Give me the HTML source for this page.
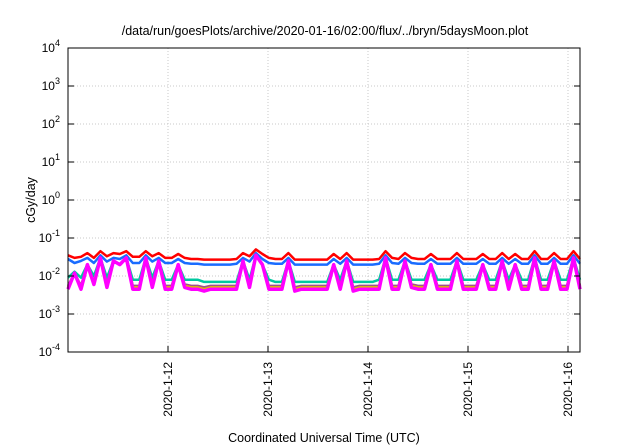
<!DOCTYPE html>
<html><head><meta charset="utf-8"><style>
body{margin:0;background:#fff;}
svg{display:block;font-family:"Liberation Sans",sans-serif;}
</style></head><body>
<svg id="c" width="640" height="448">
<text x="325" y="35" font-size="12.5" text-anchor="middle">/data/run/goesPlots/archive/2020-01-16/02:00/flux/../bryn/5daysMoon.plot</text>
<text x="324" y="442" font-size="12.5" text-anchor="middle">Coordinated Universal Time (UTC)</text>
<text transform="translate(35,200) rotate(-90)" font-size="12.5" text-anchor="middle">cGy/day</text>
<g id="grid"></g><g id="series"></g><g id="axes"></g>
</svg>
<script>
const dayTicks=["2020-1-12","2020-1-13","2020-1-14","2020-1-15","2020-1-16"];
const dayTickValues=[1,2,3,4,5];
const yTickExp=[-4,-3,-2,-1,0,1,2,3,4];
const xSpanDays=5.12;
const magenta=[0.0045,0.012,0.0045,0.02,0.006,0.03,0.005,0.025,0.02,0.03,0.0045,0.0045,0.03,0.005,0.025,0.0045,0.0045,0.02,0.005,0.0045,
0.0045,0.004,0.0045,0.0045,0.0045,0.0045,0.0045,0.025,0.005,0.035,0.02,0.0045,0.0045,0.0045,0.025,0.004,0.0045,0.0045,0.0045,0.0045,
0.0045,0.02,0.0045,0.025,0.004,0.0045,0.0045,0.0045,0.0045,0.03,0.0045,0.0045,0.025,0.005,0.0045,0.0045,0.02,0.0045,0.0045,0.0045,
0.025,0.0045,0.0045,0.0045,0.02,0.0045,0.0045,0.025,0.0045,0.02,0.0045,0.0045,0.03,0.0045,0.0045,0.025,0.0045,0.0045,0.03,0.0045];
const yellow=[0.005,0.012,0.005,0.02,0.0065,0.03,0.0055,0.025,0.02,0.03,0.005,0.005,0.03,0.0055,0.025,0.005,0.005,0.02,0.0055,0.005,
0.005,0.0045,0.005,0.005,0.005,0.005,0.005,0.025,0.0055,0.035,0.02,0.005,0.005,0.005,0.025,0.0045,0.005,0.005,0.005,0.005,
0.005,0.02,0.005,0.025,0.0045,0.005,0.005,0.005,0.005,0.03,0.005,0.005,0.025,0.0055,0.005,0.005,0.02,0.005,0.005,0.005,
0.025,0.005,0.005,0.005,0.02,0.005,0.005,0.025,0.005,0.02,0.005,0.005,0.03,0.005,0.005,0.025,0.005,0.005,0.03,0.005];
const purple=[0.0055,0.012,0.0055,0.02,0.007,0.03,0.006,0.025,0.02,0.03,0.0055,0.0055,0.03,0.006,0.025,0.0055,0.0055,0.02,0.006,0.0055,
0.0055,0.005,0.0055,0.0055,0.0055,0.0055,0.0055,0.025,0.006,0.035,0.02,0.0055,0.0055,0.0055,0.025,0.005,0.0055,0.0055,0.0055,0.0055,
0.0055,0.02,0.0055,0.025,0.005,0.0055,0.0055,0.0055,0.0055,0.03,0.0055,0.0055,0.025,0.006,0.0055,0.0055,0.02,0.0055,0.0055,0.0055,
0.025,0.0055,0.0055,0.0055,0.02,0.0055,0.0055,0.025,0.0055,0.02,0.0055,0.0055,0.03,0.0055,0.0055,0.025,0.0055,0.0055,0.03,0.0055];
const teal=[0.009,0.013,0.009,0.02,0.01,0.03,0.009,0.025,0.02,0.03,0.008,0.008,0.03,0.009,0.025,0.008,0.008,0.02,0.008,0.008,
0.008,0.007,0.007,0.007,0.007,0.007,0.007,0.025,0.008,0.035,0.02,0.008,0.007,0.007,0.025,0.007,0.007,0.007,0.007,0.007,
0.007,0.02,0.008,0.025,0.007,0.007,0.007,0.007,0.008,0.03,0.008,0.008,0.025,0.008,0.008,0.008,0.02,0.008,0.008,0.008,
0.025,0.008,0.008,0.008,0.02,0.008,0.008,0.025,0.008,0.02,0.008,0.008,0.03,0.008,0.008,0.025,0.008,0.008,0.03,0.008];
const blue=[0.028,0.022,0.025,0.03,0.022,0.035,0.024,0.03,0.028,0.035,0.022,0.022,0.035,0.024,0.03,0.022,0.022,0.028,0.022,0.021,
0.021,0.02,0.02,0.02,0.02,0.02,0.021,0.03,0.024,0.04,0.028,0.022,0.021,0.021,0.03,0.02,0.02,0.02,0.02,0.02,
0.02,0.028,0.021,0.03,0.02,0.02,0.02,0.02,0.021,0.035,0.022,0.021,0.03,0.022,0.021,0.021,0.028,0.021,0.021,0.021,
0.03,0.021,0.021,0.021,0.028,0.021,0.021,0.03,0.021,0.028,0.021,0.021,0.035,0.021,0.021,0.03,0.021,0.021,0.035,0.021];
const red=[0.035,0.03,0.032,0.04,0.03,0.045,0.033,0.04,0.038,0.045,0.032,0.032,0.045,0.033,0.04,0.03,0.03,0.038,0.03,0.028,
0.028,0.027,0.027,0.027,0.027,0.027,0.028,0.04,0.033,0.05,0.038,0.03,0.028,0.028,0.04,0.027,0.027,0.027,0.027,0.027,
0.027,0.038,0.028,0.04,0.027,0.027,0.027,0.027,0.028,0.045,0.03,0.028,0.04,0.03,0.028,0.028,0.038,0.028,0.028,0.028,
0.04,0.028,0.028,0.028,0.038,0.028,0.028,0.04,0.028,0.038,0.028,0.028,0.045,0.028,0.028,0.04,0.028,0.028,0.045,0.028];
const L=68,R=580,T=48,B=352;
const NS="http://www.w3.org/2000/svg";
function xs(d){return L+d/xSpanDays*(R-L);}
function ys(v){return B-(Math.log10(v)+4)/8*(B-T);}
function mk(tag,attrs,parent){const e=document.createElementNS(NS,tag);for(const k in attrs)e.setAttribute(k,attrs[k]);parent.appendChild(e);return e;}
const grid=document.getElementById('grid'),axes=document.getElementById('axes'),ser=document.getElementById('series');
yTickExp.forEach(p=>{const y=ys(Math.pow(10,p));
 if(p>-4&&p<4){const g=mk('line',{x1:L,x2:R,y1:y,y2:y,stroke:'#c8c8c8','stroke-dasharray':'1,2'},grid);
 }
 const t=mk('line',{x1:L,x2:L+6,y1:y,y2:y,stroke:'#000'},axes);
 const t2=mk('line',{x1:R,x2:R-6,y1:y,y2:y,stroke:'#000'},axes);
 const tx=mk('text',{x:L-8,y:y+4,'font-size':'12','text-anchor':'end'},axes);
 
 tx.appendChild(document.createTextNode('10'));const s=mk('tspan',{dy:'-6','font-size':'9'},tx);s.textContent=String(p);});
dayTickValues.forEach((d,i)=>{const x=xs(d);
 const g=mk('line',{x1:x,x2:x,y1:T,y2:B,stroke:'#c8c8c8','stroke-dasharray':'1,2'},grid);
 const t=mk('line',{x1:x,x2:x,y1:B,y2:B-6,stroke:'#000'},axes);
 const tx=mk('text',{transform:`translate(${x+4},362) rotate(-90)`,'font-size':'12','text-anchor':'end'},axes);
 tx.textContent=dayTicks[i];});
const fr=mk('rect',{x:L,y:T,width:R-L,height:B-T,fill:'none',stroke:'#000','stroke-width':'1'},axes);

const seriesList=[[red,'#ff0000',2.5,'series-red'],[blue,'#1a6cff',2.5,'series-blue'],[teal,'#00c8a0',2.5,'series-teal'],[purple,'#a0508c',2.5,'series-purple'],[yellow,'#e0c000',2.5,'series-yellow'],[magenta,'#ff00ff',3.5,'series-magenta']];
seriesList.forEach(([arr,col,w,name])=>{const n=arr.length;
 const pts=arr.map((v,i)=>xs(i/(n-1)*xSpanDays).toFixed(1)+','+ys(v).toFixed(1)).join(' ');
 const p=mk('polyline',{points:pts,fill:'none',stroke:col,'stroke-width':w,'stroke-linejoin':'round'},ser);
 });
</script>
</body></html>
